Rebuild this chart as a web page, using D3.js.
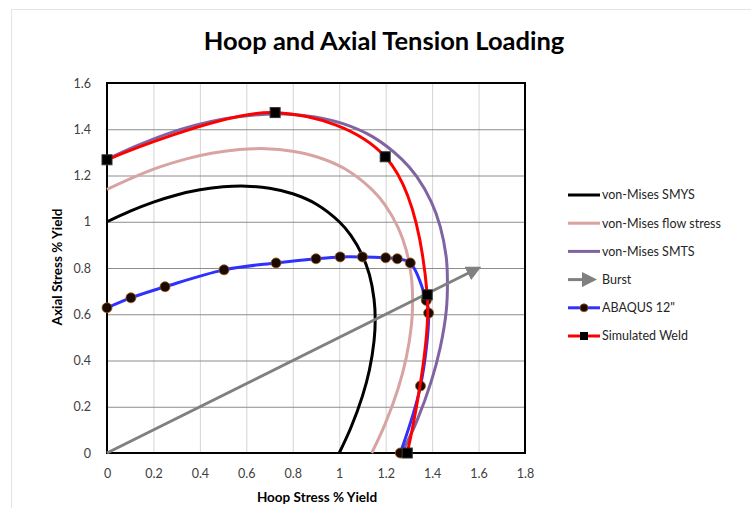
<!DOCTYPE html>
<html>
<head>
<meta charset="utf-8">
<script src="https://cdn.jsdelivr.net/npm/d3@7"></script>
<style>
  body { margin: 0; background: #fff; }
  text { font-family: Lato, "Open Sans", sans-serif; }
</style>
</head>
<body>
<div id="chart"></div>
<script>
var svgWidth = 751;
var svgHeight = 508;

var margin = {
  top: 83,
  right: 226,
  bottom: 55,
  left: 107
};

var width = svgWidth - margin.left - margin.right;
var height = svgHeight - margin.top - margin.bottom;

// tick values
var xTicks = [0, 0.2, 0.4, 0.6, 0.8, 1, 1.2, 1.4, 1.6, 1.8];
var yTicks = [0, 0.2, 0.4, 0.6, 0.8, 1, 1.2, 1.4, 1.6];

// von-Mises envelopes (hoop, axial)
var smysHoop  = [0, 0.1, 0.2, 0.3, 0.4, 0.5, 0.6, 0.7, 0.8, 0.9, 1.0, 1.05, 1.1, 1.13, 1.15, 1.155, 1.15, 1.13, 1.1, 1.05, 1.0];
var smysAxial = [1.0, 1.046, 1.085, 1.116, 1.138, 1.151, 1.154, 1.145, 1.121, 1.077, 1.0, 0.941, 0.854, 0.771, 0.665, 0.577, 0.485, 0.359, 0.246, 0.109, 0];

var flowHoop  = [0, 0.114, 0.228, 0.342, 0.456, 0.57, 0.684, 0.798, 0.912, 1.026, 1.14, 1.197, 1.254, 1.288, 1.311, 1.316, 1.311, 1.288, 1.254, 1.197, 1.14];
var flowAxial = [1.14, 1.192, 1.237, 1.272, 1.297, 1.312, 1.316, 1.305, 1.278, 1.228, 1.14, 1.073, 0.974, 0.879, 0.758, 0.658, 0.553, 0.409, 0.28, 0.124, 0];

var smtsHoop  = [0, 0.127, 0.254, 0.381, 0.508, 0.635, 0.762, 0.889, 1.016, 1.143, 1.27, 1.334, 1.397, 1.435, 1.461, 1.466, 1.461, 1.435, 1.397, 1.334, 1.27];
var smtsAxial = [1.27, 1.328, 1.378, 1.417, 1.445, 1.462, 1.466, 1.454, 1.424, 1.368, 1.27, 1.195, 1.085, 0.979, 0.845, 0.733, 0.616, 0.456, 0.312, 0.138, 0];

var burstHoop  = [0, 1.6];
var burstAxial = [0, 0.8];

var abaqusHoop  = [0, 0.103, 0.25, 0.504, 0.728, 0.9, 1.004, 1.1, 1.2, 1.25, 1.306, 1.375, 1.385, 1.35, 1.263];
var abaqusAxial = [0.628, 0.671, 0.719, 0.792, 0.822, 0.84, 0.848, 0.848, 0.844, 0.84, 0.822, 0.66, 0.605, 0.29, 0];

var weldHoop  = [0, 0.724, 1.198, 1.379, 1.293];
var weldAxial = [1.268, 1.472, 1.281, 0.684, 0];

var legendNames = ["von-Mises SMYS", "von-Mises flow stress", "von-Mises SMTS", "Burst", "ABAQUS 12\"", "Simulated Weld"];
var legendColors = ["#000000", "#d8a3a3", "#8064a2", "#808080", "#3030ff", "#ff0000"];

function zip(xs, ys) {
  return xs.map(function(x, i) { return [x, ys[i]]; });
}

var svg = d3
  .select("#chart")
  .append("svg")
  .attr("width", svgWidth)
  .attr("height", svgHeight);

// faint outer frame
svg.append("rect")
  .attr("x", 11.5)
  .attr("y", 9.5)
  .attr("width", 800)
  .attr("height", 600)
  .attr("fill", "none")
  .attr("stroke", "#e4e4e4");

var defs = svg.append("defs");
defs.append("marker")
  .attr("id", "arrow")
  .attr("viewBox", "0 0 10 10")
  .attr("refX", 8)
  .attr("refY", 5)
  .attr("markerWidth", 5)
  .attr("markerHeight", 5)
  .attr("markerUnits", "strokeWidth")
  .attr("orient", "auto")
  .append("path")
  .attr("d", "M0,0 L10,5 L0,10 z")
  .attr("fill", "#808080");

var chartGroup = svg.append("g")
  .attr("transform", `translate(${margin.left}, ${margin.top})`);

var xScale = d3.scaleLinear().domain([0, 1.8]).range([0, width]);
var yScale = d3.scaleLinear().domain([0, 1.6]).range([height, 0]);

var fmt = function(d) { return String(+d.toFixed(1)); };

// vertical gridlines (light)
chartGroup.append("g")
  .attr("transform", `translate(0, ${height})`)
  .call(d3.axisBottom(xScale).tickValues(xTicks).tickSize(-height).tickFormat(""))
  .call(g => g.select(".domain").remove())
  .selectAll("line")
  .attr("stroke", "#d4d4d4")
  .attr("stroke-width", 1);

// horizontal gridlines (darker)
chartGroup.append("g")
  .call(d3.axisLeft(yScale).tickValues(yTicks).tickSize(-width).tickFormat(""))
  .call(g => g.select(".domain").remove())
  .selectAll("line")
  .attr("stroke", "#8c8c8c")
  .attr("stroke-width", 1);

// plot border
chartGroup.append("rect")
  .attr("width", width)
  .attr("height", height)
  .attr("fill", "none")
  .attr("stroke", "#000")
  .attr("stroke-width", 2);

// tick labels
var xAxis = chartGroup.append("g")
  .attr("transform", `translate(0, ${height})`)
  .call(d3.axisBottom(xScale).tickValues(xTicks).tickSize(0).tickPadding(16).tickFormat(fmt));
xAxis.select(".domain").remove();
xAxis.selectAll("text")
  .attr("font-family", "Lato, sans-serif")
  .attr("font-size", "12.5px")
  .attr("fill", "#404040");

var yAxis = chartGroup.append("g")
  .call(d3.axisLeft(yScale).tickValues(yTicks).tickSize(0).tickPadding(16).tickFormat(fmt));
yAxis.select(".domain").remove();
yAxis.selectAll("text")
  .attr("font-family", "Lato, sans-serif")
  .attr("font-size", "12.5px")
  .attr("fill", "#404040");

var smooth = d3.line()
  .x(d => xScale(d[0]))
  .y(d => yScale(d[1]))
  .curve(d3.curveCatmullRom.alpha(0.5));

function addLine(pts, color) {
  chartGroup.append("path")
    .datum(pts)
    .attr("d", smooth)
    .attr("fill", "none")
    .attr("stroke", color)
    .attr("stroke-width", 3)
    .attr("stroke-linejoin", "round");
}

addLine(zip(smysHoop, smysAxial), legendColors[0]);
addLine(zip(flowHoop, flowAxial), legendColors[1]);
addLine(zip(smtsHoop, smtsAxial), legendColors[2]);

// burst arrow
chartGroup.append("path")
  .datum(zip(burstHoop, burstAxial))
  .attr("d", d3.line().x(d => xScale(d[0])).y(d => yScale(d[1])))
  .attr("fill", "none")
  .attr("stroke", legendColors[3])
  .attr("stroke-width", 3)
  .attr("marker-end", "url(#arrow)");

// ABAQUS 12"
var abaqus = zip(abaqusHoop, abaqusAxial);
addLine(abaqus, legendColors[4]);
chartGroup.append("g")
  .selectAll("circle")
  .data(abaqus)
  .enter()
  .append("circle")
  .attr("cx", d => xScale(d[0]))
  .attr("cy", d => yScale(d[1]))
  .attr("r", 5)
  .attr("fill", "#1a0a00")
  .attr("stroke", "#9a5a20")
  .attr("stroke-width", 0.8);

// Simulated Weld
var weld = zip(weldHoop, weldAxial);
addLine(weld, legendColors[5]);
chartGroup.append("g")
  .selectAll("rect")
  .data(weld)
  .enter()
  .append("rect")
  .attr("x", d => xScale(d[0]) - 5)
  .attr("y", d => yScale(d[1]) - 5)
  .attr("width", 10)
  .attr("height", 10)
  .attr("fill", "#000")
  .attr("stroke", "#333");

// title
svg.append("text")
  .attr("x", 384)
  .attr("y", 50)
  .attr("text-anchor", "middle")
  .attr("font-size", "25.5px")
  .attr("font-weight", "bold")
  .attr("fill", "#000")
  .text("Hoop and Axial Tension Loading");

// axis titles
svg.append("text")
  .attr("x", 317)
  .attr("y", 502)
  .attr("text-anchor", "middle")
  .attr("font-size", "13.5px")
  .attr("font-weight", "bold")
  .attr("fill", "#000")
  .text("Hoop Stress % Yield");

svg.append("text")
  .attr("transform", "rotate(-90)")
  .attr("x", -267)
  .attr("y", 62)
  .attr("text-anchor", "middle")
  .attr("font-size", "13.5px")
  .attr("font-weight", "bold")
  .attr("fill", "#000")
  .text("Axial Stress % Yield");

// legend
var legend = svg.append("g")
  .attr("transform", "translate(568, 195)");

var rows = legend.selectAll("g")
  .data(legendNames)
  .enter()
  .append("g")
  .attr("transform", (d, i) => `translate(0, ${i * 28.2})`);

rows.append("line")
  .attr("x1", 0)
  .attr("x2", (d, i) => i === 3 ? 26 : 32)
  .attr("y1", 0)
  .attr("y2", 0)
  .attr("stroke", (d, i) => legendColors[i])
  .attr("stroke-width", 3)
  .attr("marker-end", (d, i) => i === 3 ? "url(#arrow)" : null);

rows.filter((d, i) => i === 4)
  .append("circle")
  .attr("cx", 16)
  .attr("cy", 0)
  .attr("r", 4)
  .attr("fill", "#1a0a00")
  .attr("stroke", "#9a5a20")
  .attr("stroke-width", 0.8);

rows.filter((d, i) => i === 5)
  .append("rect")
  .attr("x", 12)
  .attr("y", -4)
  .attr("width", 8)
  .attr("height", 8)
  .attr("fill", "#000");

rows.append("text")
  .attr("x", 34)
  .attr("y", 0)
  .attr("dy", "0.35em")
  .attr("font-size", "12.5px")
  .attr("fill", "#262626")
  .text(d => d);
</script>
</body>
</html>
